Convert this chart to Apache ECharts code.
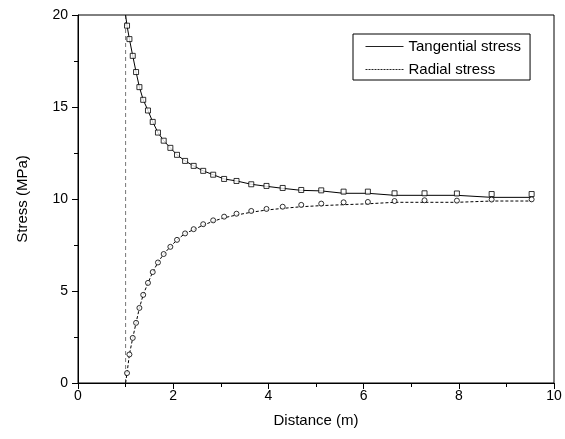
<!DOCTYPE html>
<html><head><meta charset="utf-8">
<script src="https://cdn.jsdelivr.net/npm/echarts@6/dist/echarts.min.js"></script>
<style>html,body{margin:0;padding:0;background:#fff}#c{width:565px;height:439px}</style>
</head><body><div id="c"></div>
<script>
// Marker (numerical) points
const markerDistance = [1.03, 1.08, 1.15, 1.22, 1.29, 1.37, 1.47, 1.57, 1.68, 1.80, 1.94, 2.08, 2.25, 2.43, 2.63, 2.84, 3.07, 3.33, 3.64, 3.96, 4.30, 4.69, 5.11, 5.58, 6.09, 6.65, 7.28, 7.96, 8.69, 9.53];
const tangentialMarkers = [19.42, 18.69, 17.78, 16.90, 16.08, 15.39, 14.81, 14.19, 13.61, 13.17, 12.78, 12.40, 12.07, 11.80, 11.53, 11.32, 11.09, 10.98, 10.80, 10.71, 10.60, 10.49, 10.47, 10.40, 10.40, 10.31, 10.31, 10.30, 10.27, 10.27];
const radialMarkers = [0.54, 1.55, 2.45, 3.27, 4.08, 4.79, 5.44, 6.03, 6.55, 7.01, 7.40, 7.78, 8.13, 8.36, 8.63, 8.84, 9.04, 9.20, 9.35, 9.46, 9.58, 9.68, 9.75, 9.82, 9.84, 9.89, 9.93, 9.91, 9.97, 9.98];

// Curves
const lineDistance = [1.00, 1.03, 1.08, 1.15, 1.22, 1.29, 1.37, 1.47, 1.57, 1.68, 1.80, 1.94, 2.08, 2.25, 2.43, 2.63, 2.84, 3.07, 3.33, 3.64, 3.96, 4.30, 4.69, 5.11, 5.58, 6.09, 6.65, 7.28, 7.96, 8.69, 9.53];
const tangentialLine = [20.0, 19.42, 18.69, 17.78, 16.90, 16.08, 15.39, 14.81, 14.19, 13.61, 13.17, 12.78, 12.40, 12.07, 11.80, 11.53, 11.32, 11.09, 10.98, 10.80, 10.69, 10.58, 10.47, 10.44, 10.31, 10.31, 10.20, 10.20, 10.20, 10.09, 10.09];
const radialLine = [0.0, 0.54, 1.55, 2.45, 3.27, 4.08, 4.79, 5.44, 6.03, 6.55, 7.01, 7.40, 7.78, 8.13, 8.33, 8.58, 8.79, 8.98, 9.13, 9.28, 9.40, 9.49, 9.58, 9.64, 9.69, 9.74, 9.82, 9.82, 9.82, 9.89, 9.89];

// Vertical boundary line
const boundaryX = [1, 1];
const boundaryY = [0, 20];

const xTicks = [0, 2, 4, 6, 8, 10];
const yTicks = [0, 5, 10, 15, 20];

const seriesNames = ['Tangential stress', 'Radial stress'];

const zip = (a, b) => a.map((v, i) => [v, b[i]]);
const FONT = '"Liberation Sans", Arial, sans-serif';

const chart = echarts.init(document.getElementById('c'), null, {renderer: 'canvas'});
chart.setOption({
  animation: false,
  backgroundColor: '#fff',
  textStyle: {fontFamily: FONT, color: '#000'},
  grid: {left: 78, right: 11, top: 15, bottom: 56, show: true, borderColor: '#000', borderWidth: 1, backgroundColor: 'transparent'},
  legend: {
    data: [
      {name: seriesNames[0], lineStyle: {width: 1, color: '#222'}},
      {name: seriesNames[1], lineStyle: {width: 1, color: '#222', type: [2, 1]}}
    ],
    orient: 'vertical',
    left: 353, top: 34,
    padding: [5, 9, 3, 12],
    itemGap: 8,
    itemWidth: 38, itemHeight: 14,
    borderColor: '#000', borderWidth: 1,
    backgroundColor: '#fff',
    itemStyle: {opacity: 0},
    textStyle: {fontFamily: FONT, fontSize: 15, color: '#000'}
  },
  xAxis: {
    type: 'value', min: xTicks[0], max: xTicks[xTicks.length - 1], interval: 2,
    name: 'Distance (m)', nameLocation: 'middle', nameGap: 30,
    nameTextStyle: {fontFamily: FONT, fontSize: 15, color: '#000'},
    axisLine: {lineStyle: {color: '#000', width: 1}},
    axisTick: {length: 6, lineStyle: {color: '#000'}},
    minorTick: {show: true, splitNumber: 2, length: 4, lineStyle: {color: '#000'}},
    splitLine: {show: false},
    axisLabel: {fontFamily: FONT, fontSize: 14, color: '#000', margin: 6}
  },
  yAxis: {
    type: 'value', min: yTicks[0], max: yTicks[yTicks.length - 1], interval: 5,
    name: 'Stress (MPa)', nameLocation: 'middle', nameGap: 48,
    nameTextStyle: {fontFamily: FONT, fontSize: 15, color: '#000'},
    axisLine: {lineStyle: {color: '#000', width: 1}},
    axisTick: {length: 6, lineStyle: {color: '#000'}},
    minorTick: {show: true, splitNumber: 2, length: 4, lineStyle: {color: '#000'}},
    splitLine: {show: false},
    axisLabel: {fontFamily: FONT, fontSize: 14, color: '#000', margin: 10}
  },
  series: [
    {type: 'line', data: zip(boundaryX, boundaryY), symbol: 'none', silent: true,
     lineStyle: {color: '#777', width: 1, type: [4, 3]}, z: 1},
    {name: seriesNames[0], type: 'line', data: zip(lineDistance, tangentialLine), symbol: 'none',
     lineStyle: {color: '#000', width: 1}, itemStyle: {color: '#000'}, z: 2},
    {name: seriesNames[1], type: 'line', data: zip(lineDistance, radialLine), symbol: 'none',
     lineStyle: {color: '#000', width: 1, type: [3, 2]}, itemStyle: {color: '#000'}, z: 2},
    {type: 'scatter', data: zip(markerDistance, tangentialMarkers), symbol: 'rect', symbolSize: 5,
     itemStyle: {color: '#fff', borderColor: '#000', borderWidth: 1}, z: 3},
    {type: 'scatter', data: zip(markerDistance, radialMarkers), symbol: 'circle', symbolSize: 5,
     itemStyle: {color: '#fff', borderColor: '#000', borderWidth: 1}, z: 3}
  ]
});
</script>
</body></html>
